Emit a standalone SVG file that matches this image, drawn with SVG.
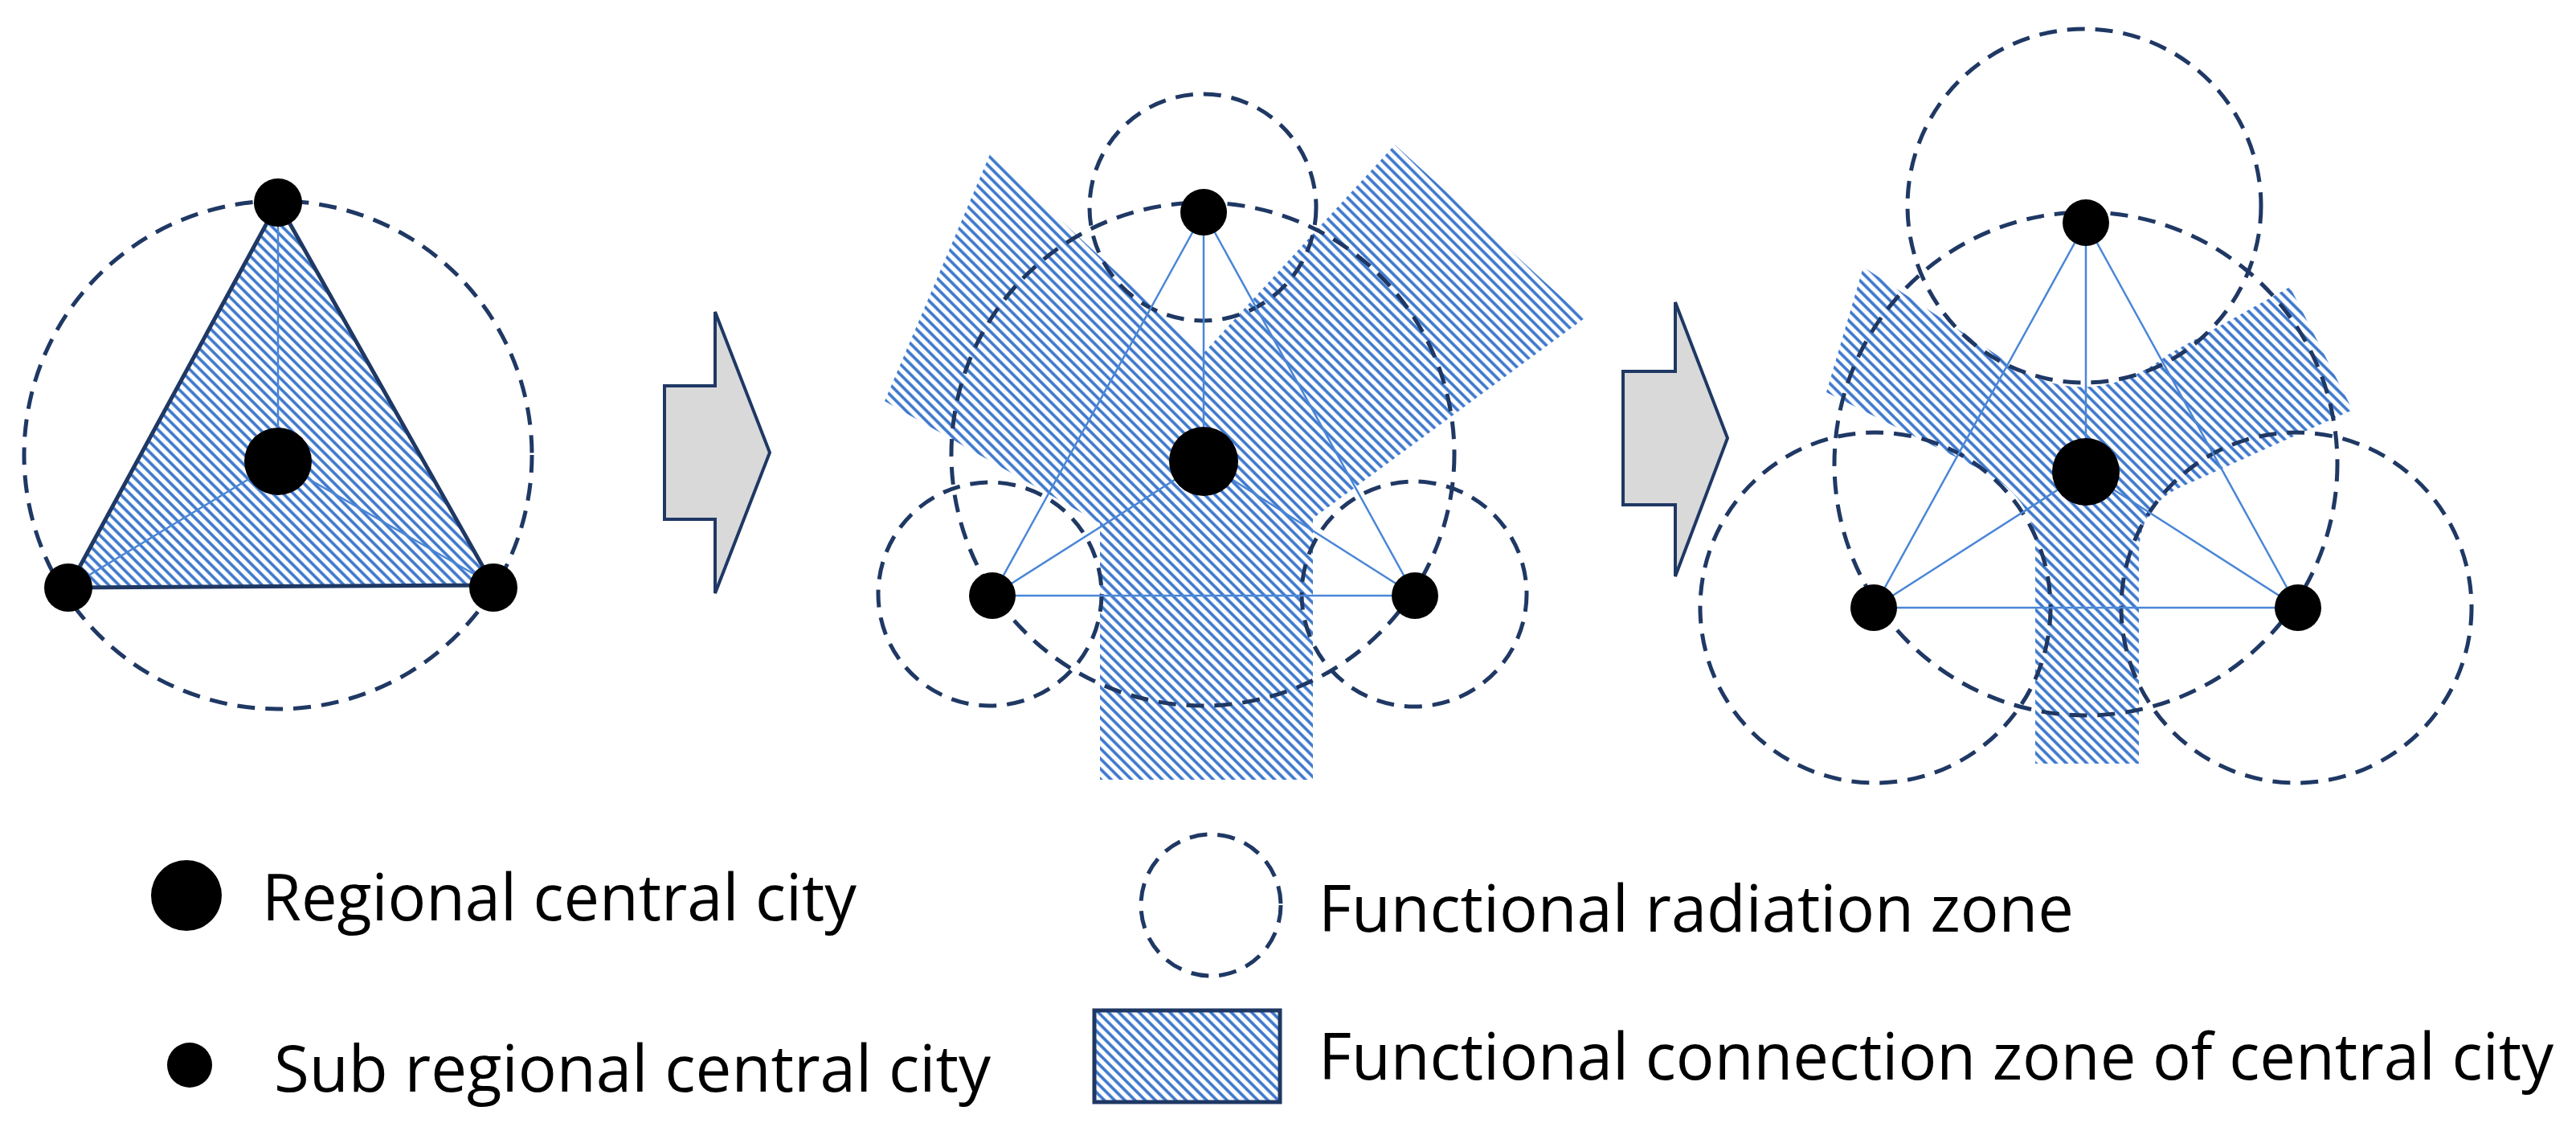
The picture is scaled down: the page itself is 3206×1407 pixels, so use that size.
<svg xmlns="http://www.w3.org/2000/svg" width="3206" height="1407" viewBox="0 0 3206 1407">
<defs>
<pattern id="hatch" patternUnits="userSpaceOnUse" width="9" height="9" patternTransform="rotate(-45)">
<rect width="9" height="9" fill="#ffffff"/>
<line x1="4" y1="0" x2="4" y2="9" stroke="#3a76cc" stroke-width="3.6"/>
</pattern>
</defs>
<style>
.zone{fill:none;stroke:#1f3864;stroke-width:5;stroke-dasharray:22 13}
.link{stroke:#4a86d6;stroke-width:2.5;fill:none}
.hatch{fill:url(#hatch);stroke:none}
.node{fill:#000}
.arrow{fill:#d9d9d9;stroke:#1f3864;stroke-width:4}
.label{font-family:"Open Sans","Liberation Sans",sans-serif;font-size:80px;fill:#000}
</style>
<rect width="3206" height="1407" fill="#fff"/>

<g id="panel1">
<circle class="zone" cx="346" cy="566" r="316"/>
<polygon points="346,252 85,731 614,728" fill="url(#hatch)" stroke="#1f3864" stroke-width="5"/>
<g class="link">
<line x1="346" y1="252" x2="346" y2="574"/>
<line x1="346" y1="574" x2="85" y2="731"/>
<line x1="346" y1="574" x2="614" y2="728"/>
</g>
<circle class="node" cx="346" cy="252" r="30"/>
<circle class="node" cx="346" cy="574" r="42"/>
<circle class="node" cx="85" cy="731" r="30"/>
<circle class="node" cx="614" cy="731" r="30"/>
</g>

<g id="arrow1"><polygon class="arrow" points="827,480 890,480 890,388 958,563 890,738 890,646 827,646"/></g>

<g id="panel2">
<path class="hatch" d="M1232,192 L1498,439 L1736,180 L1972,396 L1634,645 L1634,970 L1369,970 L1369,651 L1101,499 Z"/>
<circle class="zone" cx="1497" cy="565" r="313"/>
<circle class="zone" cx="1497" cy="258" r="141"/>
<circle class="zone" cx="1232" cy="739" r="139"/>
<circle class="zone" cx="1760" cy="739" r="140"/>
<g class="link">
<polygon points="1498,264 1235,741 1761,741"/>
<line x1="1498" y1="264" x2="1498" y2="574"/>
<line x1="1498" y1="574" x2="1235" y2="741"/>
<line x1="1498" y1="574" x2="1761" y2="741"/>
</g>
<circle class="node" cx="1498" cy="264" r="29"/>
<circle class="node" cx="1498" cy="574" r="43"/>
<circle class="node" cx="1235" cy="741" r="29"/>
<circle class="node" cx="1761" cy="741" r="29"/>
</g>

<g id="arrow2"><polygon class="arrow" points="2020,462 2085,462 2085,376 2150,545 2085,717 2085,628 2020,628"/></g>

<g id="panel3">
<path class="hatch" d="M2319,332 L2492,446 Q2596,520 2700,440 L2850,357 L2928,510 L2714,606 Q2662,630 2662,690 L2662,950 L2533,950 L2533,680 Q2533,620 2463,583 L2273,488 Z"/>
<circle class="zone" cx="2596" cy="577" r="313"/>
<circle class="zone" cx="2594" cy="256" r="220"/>
<circle class="zone" cx="2334" cy="756" r="218"/>
<circle class="zone" cx="2858" cy="756" r="218"/>
<g class="link">
<polygon points="2596,277 2332,756 2860,756"/>
<line x1="2596" y1="277" x2="2596" y2="587"/>
<line x1="2596" y1="587" x2="2332" y2="756"/>
<line x1="2596" y1="587" x2="2860" y2="756"/>
</g>
<circle class="node" cx="2596" cy="277" r="29"/>
<circle class="node" cx="2596" cy="587" r="42"/>
<circle class="node" cx="2332" cy="756" r="29"/>
<circle class="node" cx="2860" cy="756" r="29"/>
</g>

<g id="legend">
<circle class="node" cx="232" cy="1114" r="44"/>
<text class="label" x="326" y="1145" textLength="740" lengthAdjust="spacingAndGlyphs">Regional central city</text>
<circle class="node" cx="236" cy="1325" r="28"/>
<text class="label" x="341" y="1358" textLength="892" lengthAdjust="spacingAndGlyphs">Sub regional central city</text>
<ellipse class="zone" cx="1507" cy="1126" rx="87" ry="88"/>
<text class="label" x="1641" y="1159" textLength="940" lengthAdjust="spacingAndGlyphs">Functional radiation zone</text>
<rect x="1362" y="1257" width="231" height="114" fill="url(#hatch)" stroke="#1f3864" stroke-width="5"/>
<text class="label" x="1641" y="1343" textLength="1537" lengthAdjust="spacingAndGlyphs">Functional connection zone of central city</text>
</g>
</svg>
